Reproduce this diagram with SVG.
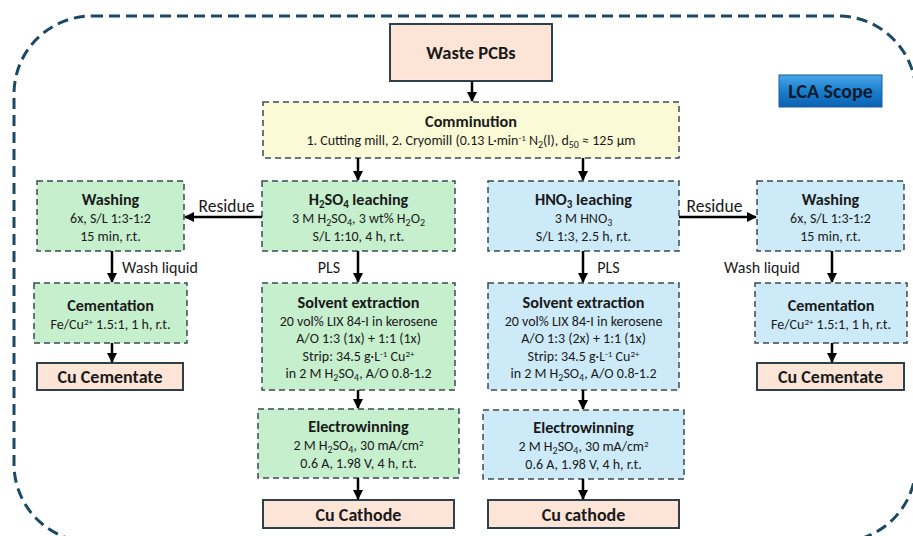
<svg xmlns="http://www.w3.org/2000/svg" width="913" height="536" viewBox="0 0 913 536">
<defs>
<marker id="ah" viewBox="0 0 10 10" refX="9" refY="5" markerWidth="4" markerHeight="4" orient="auto" markerUnits="strokeWidth">
<path d="M0,0 L10,5 L0,10 Z" fill="#000"/>
</marker>
<linearGradient id="lca" x1="0" y1="0" x2="0" y2="1">
<stop offset="0" stop-color="#4aa6e6"/>
<stop offset="0.5" stop-color="#1a7fd0"/>
<stop offset="1" stop-color="#0b62b0"/>
</linearGradient>
<style>
text{font-family:Carlito,Lato,"Liberation Sans",sans-serif;fill:#1a1a1a;text-anchor:middle}
.t{font-weight:bold;font-size:16.2px}
.b{font-size:14px}
.big{font-weight:bold;font-size:18.5px}
.lbl{font-size:16px}
.g{fill:#c6efcd;stroke:#3c4a55;stroke-width:1.5;stroke-dasharray:6 4}
.bl{fill:#cdeaf8;stroke:#3c4a55;stroke-width:1.5;stroke-dasharray:6 4}
.y{fill:#fafad6;stroke:#3c4a55;stroke-width:1.5;stroke-dasharray:6 4}
.p{fill:#fce4d6;stroke:#2f3f4c;stroke-width:2}
.c line{stroke:#000;stroke-width:2.5;marker-end:url(#ah)}
.sub{font-size:10px}
.sup{font-size:9px}
.ts{font-size:11px}
</style>
</defs>
<rect x="14" y="16" width="902" height="526" rx="78" fill="none" stroke="#1b4a66" stroke-width="3" stroke-dasharray="11 6"/>

<g id="waste"><rect class="p" x="390" y="24" width="162" height="57"/><text class="big" x="471" y="59">Waste PCBs</text></g>
<g id="lca-scope"><rect x="779" y="75" width="103" height="32" fill="url(#lca)" stroke="#1a5f9e" stroke-width="1"/><text class="big" x="830.5" y="98" style="fill:#0e1a2a;font-size:20px">LCA Scope</text></g>

<g id="comminution"><rect class="y" x="263" y="102" width="416" height="56"/>
<text class="t" x="471" y="127">Comminution</text>
<text class="b" x="471" y="145">1. Cutting mill, 2. Cryomill (0.13 L·min<tspan class="sup" dy="-4">-1</tspan><tspan dy="4"> N</tspan><tspan class="sub" dy="3">2</tspan><tspan dy="-3">(l), d</tspan><tspan class="sub" dy="3">50</tspan><tspan dy="-3"> ≈ 125 µm</tspan></text></g>

<g id="h2so4-leach"><rect class="g" x="262" y="181" width="193" height="70"/>
<text class="t" x="358.5" y="205">H<tspan class="ts" dy="3">2</tspan><tspan dy="-3">SO</tspan><tspan class="ts" dy="3">4</tspan><tspan dy="-3"> leaching</tspan></text>
<text class="b" x="358.5" y="223">3 M H<tspan class="sub" dy="3">2</tspan><tspan dy="-3">SO</tspan><tspan class="sub" dy="3">4</tspan><tspan dy="-3">, 3 wt% H</tspan><tspan class="sub" dy="3">2</tspan><tspan dy="-3">O</tspan><tspan class="sub" dy="3">2</tspan></text>
<text class="b" x="358.5" y="241">S/L 1:10, 4 h, r.t.</text></g>

<g id="hno3-leach"><rect class="bl" x="488" y="181" width="191" height="70"/>
<text class="t" x="583.5" y="205">HNO<tspan class="ts" dy="3">3</tspan><tspan dy="-3"> leaching</tspan></text>
<text class="b" x="583.5" y="223">3 M HNO<tspan class="sub" dy="3">3</tspan></text>
<text class="b" x="583.5" y="241">S/L 1:3, 2.5 h, r.t.</text></g>

<g id="wash-left"><rect class="g" x="37" y="181" width="147" height="70"/>
<text class="t" x="110.5" y="205">Washing</text>
<text class="b" x="110.5" y="223">6x, S/L 1:3-1:2</text>
<text class="b" x="110.5" y="241">15 min, r.t.</text></g>

<g id="wash-right"><rect class="bl" x="757" y="181" width="147" height="70"/>
<text class="t" x="830.5" y="205">Washing</text>
<text class="b" x="830.5" y="223">6x, S/L 1:3-1:2</text>
<text class="b" x="830.5" y="241">15 min, r.t.</text></g>

<g id="cement-left"><rect class="g" x="34" y="283" width="153" height="60"/>
<text class="t" x="110.5" y="311">Cementation</text>
<text class="b" x="110.5" y="329">Fe/Cu<tspan class="sup" dy="-4">2+</tspan><tspan dy="4"> 1.5:1, 1 h, r.t.</tspan></text></g>

<g id="cement-right"><rect class="bl" x="755" y="283" width="152" height="60"/>
<text class="t" x="831" y="311">Cementation</text>
<text class="b" x="831" y="329">Fe/Cu<tspan class="sup" dy="-4">2+</tspan><tspan dy="4"> 1.5:1, 1 h, r.t.</tspan></text></g>

<g id="cucem-left"><rect class="p" x="37" y="363" width="146" height="27"/><text class="big" x="110" y="383" style="font-size:18px">Cu Cementate</text></g>
<g id="cucem-right"><rect class="p" x="757" y="363" width="147" height="27"/><text class="big" x="830.5" y="383" style="font-size:18px">Cu Cementate</text></g>

<g id="sx-left"><rect class="g" x="262" y="283" width="193" height="107"/>
<text class="t" x="358.5" y="308">Solvent extraction</text>
<text class="b" x="358.5" y="326">20 vol% LIX 84-I in kerosene</text>
<text class="b" x="358.5" y="343">A/O 1:3 (1x) + 1:1 (1x)</text>
<text class="b" x="358.5" y="361">Strip: 34.5 g·L<tspan class="sup" dy="-4">-1</tspan><tspan dy="4"> Cu</tspan><tspan class="sup" dy="-4">2+</tspan></text>
<text class="b" x="358.5" y="378">in 2 M H<tspan class="sub" dy="3">2</tspan><tspan dy="-3">SO</tspan><tspan class="sub" dy="3">4</tspan><tspan dy="-3">, A/O 0.8-1.2</tspan></text></g>

<g id="sx-right"><rect class="bl" x="488" y="283" width="191" height="107"/>
<text class="t" x="583.5" y="308">Solvent extraction</text>
<text class="b" x="583.5" y="326">20 vol% LIX 84-I in kerosene</text>
<text class="b" x="583.5" y="343">A/O 1:3 (2x) + 1:1 (1x)</text>
<text class="b" x="583.5" y="361">Strip: 34.5 g·L<tspan class="sup" dy="-4">-1</tspan><tspan dy="4"> Cu</tspan><tspan class="sup" dy="-4">2+</tspan></text>
<text class="b" x="583.5" y="378">in 2 M H<tspan class="sub" dy="3">2</tspan><tspan dy="-3">SO</tspan><tspan class="sub" dy="3">4</tspan><tspan dy="-3">, A/O 0.8-1.2</tspan></text></g>

<g id="ew-left"><rect class="g" x="258" y="409" width="201" height="69"/>
<text class="t" x="358.5" y="432">Electrowinning</text>
<text class="b" x="358.5" y="450">2 M H<tspan class="sub" dy="3">2</tspan><tspan dy="-3">SO</tspan><tspan class="sub" dy="3">4</tspan><tspan dy="-3">, 30 mA/cm</tspan><tspan class="sup" dy="-4">2</tspan></text>
<text class="b" x="358.5" y="468">0.6 A, 1.98 V, 4 h, r.t.</text></g>

<g id="ew-right"><rect class="bl" x="483" y="410" width="201" height="69"/>
<text class="t" x="583.5" y="433">Electrowinning</text>
<text class="b" x="583.5" y="451">2 M H<tspan class="sub" dy="3">2</tspan><tspan dy="-3">SO</tspan><tspan class="sub" dy="3">4</tspan><tspan dy="-3">, 30 mA/cm</tspan><tspan class="sup" dy="-4">2</tspan></text>
<text class="b" x="583.5" y="469">0.6 A, 1.98 V, 4 h, r.t.</text></g>

<g id="cathode-left"><rect class="p" x="263" y="500" width="191" height="28"/><text class="big" x="358.5" y="521" style="font-size:18px">Cu Cathode</text></g>
<g id="cathode-right"><rect class="p" x="488" y="500" width="191" height="28"/><text class="big" x="583.5" y="521" style="font-size:18px">Cu cathode</text></g>

<g id="connectors" class="c">
<line x1="472" y1="81" x2="472" y2="101"/>
<line x1="358" y1="158" x2="358" y2="180"/>
<line x1="583" y1="158" x2="583" y2="180"/>
<line x1="262" y1="217" x2="185" y2="217"/>
<line x1="679" y1="217" x2="756" y2="217"/>
<line x1="112" y1="251" x2="112" y2="282"/>
<line x1="832" y1="251" x2="832" y2="282"/>
<line x1="358" y1="251" x2="358" y2="282"/>
<line x1="583" y1="251" x2="583" y2="282"/>
<line x1="112" y1="343" x2="112" y2="362"/>
<line x1="832" y1="343" x2="832" y2="362"/>
<line x1="358" y1="390" x2="358" y2="408"/>
<line x1="583" y1="390" x2="583" y2="409"/>
<line x1="358" y1="478" x2="358" y2="499"/>
<line x1="583" y1="479" x2="583" y2="499"/>
<text class="lbl" x="226.5" y="212" style="font-size:17.5px">Residue</text>
<text class="lbl" x="714.5" y="212" style="font-size:17.5px">Residue</text>
<text class="lbl" x="160" y="273">Wash liquid</text>
<text class="lbl" x="762" y="273">Wash liquid</text>
<text class="lbl" x="329" y="273">PLS</text>
<text class="lbl" x="608.5" y="273">PLS</text>
</g>
</svg>
